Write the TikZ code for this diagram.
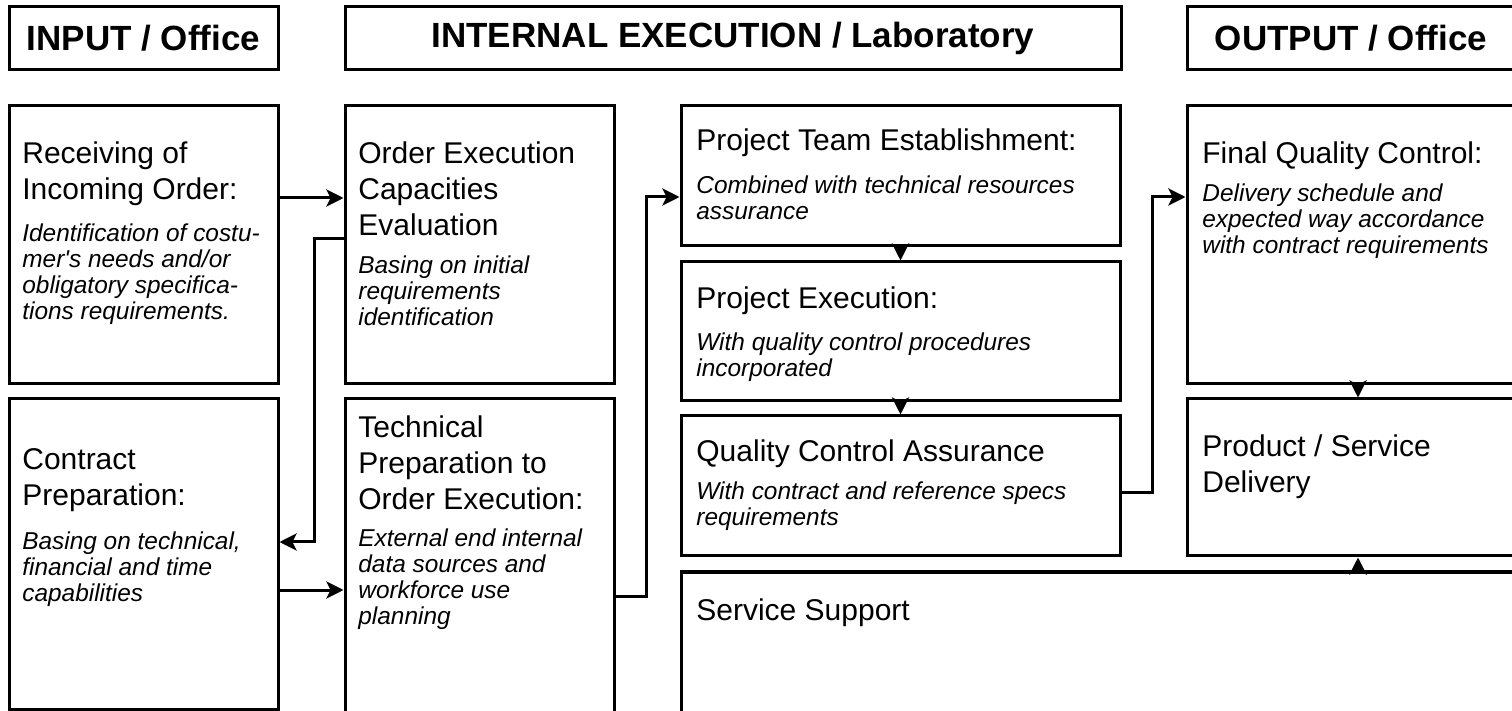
\documentclass[tikz,border=0pt]{standalone}
\usepackage{fontspec}
\setmainfont{Liberation Sans}
\usetikzlibrary{arrows.meta}
\usetikzlibrary{fit}
\tikzset{blk/.style = {draw, line width = 1.5pt, inner sep = 0}}
\tikzset{hdr/.style = {inner sep = 0, font = \bfseries\fontsize{17.5}{21}\selectfont}}
\tikzset{ttl/.style = {anchor = north west, inner sep = 0, align = left, font = \fontsize{15}{18}\selectfont}}
\tikzset{note/.style = {anchor = north west, inner sep = 0, align = left, font = \itshape\fontsize{12.2}{13}\selectfont}}
\tikzset{flow/.style = {line width = 1.5pt, -{Stealth[length = 8.5pt, width = 8.5pt, inset = 2pt]}}}

\begin{document}
\begin{tikzpicture}[x = 0.5pt, y = -0.5pt]

      \clip (0, 0) rectangle (1512, 711);

      \node [blk, fit = {(9, 7) (278, 70)}] (hin) {};
      \node [blk, fit = {(345, 7) (1121, 70)}] (hlab) {};
      \node [blk, fit = {(1187, 7) (1515, 70)}] (hout) {};
      \node [hdr] (hinT) at (hin.center) {INPUT / Office};
      \node [hdr] (hlabT) at (hlab.center) {INTERNAL EXECUTION / Laboratory};
      \node [hdr] (houtT) at (hout.center) {OUTPUT / Office};

      \node [blk, fit = {(9, 106) (278, 384)}] (recv) {};
      \node [blk, fit = {(9, 399) (278, 709)}] (contr) {};
      \node [blk, fit = {(345, 106) (614, 384)}] (eval) {};
      \node [blk, fit = {(345, 399) (614, 740)}] (prep) {};
      \node [blk, fit = {(681, 106) (1120, 246)}] (team) {};
      \node [blk, fit = {(681, 262) (1120, 401)}] (exec) {};
      \node [blk, fit = {(681, 416) (1120, 556)}] (qca) {};
      \node [blk, fit = {(681, 572) (1530, 740)}] (supp) {};
      \node [blk, fit = {(1187, 106) (1515, 384)}] (fqc) {};
      \node [blk, fit = {(1187, 399) (1515, 556)}] (deliv) {};

      \node [ttl] (recvT) at (22, 141) {Receiving of\\Incoming Order:};
      \node [note] (recvN) at (22, 223) {Identification of costu-\\mer\textquotesingle s needs and/or\\obligatory specifica-\\tions requirements.};
      \node [ttl] (contrT) at (22, 448) {Contract\\Preparation:};
      \node [note] (contrN) at (22, 531) {Basing on technical,\\financial and time\\capabilities};
      \node [ttl] (evalT) at (358, 141) {Order Execution\\Capacities\\Evaluation};
      \node [note] (evalN) at (358, 255) {Basing on initial\\requirements\\identification};
      \node [ttl] (prepT) at (358, 415) {Technical\\Preparation to\\Order Execution:};
      \node [note] (prepN) at (358, 528) {External end internal\\data sources and\\workforce use\\planning};
      \node [ttl] (teamT) at (696, 128) {Project Team Establishment:};
      \node [note] (teamN) at (696, 175) {Combined with technical resources\\assurance};
      \node [ttl] (execT) at (696, 286) {Project Execution:};
      \node [note] (execN) at (696, 332) {With quality control procedures\\incorporated};
      \node [ttl] (qcaT) at (696, 439) {Quality Control Assurance};
      \node [note] (qcaN) at (696, 481) {With contract and reference specs\\requirements};
      \node [ttl] (suppT) at (696, 598) {Service Support};
      \node [ttl] (fqcT) at (1202, 141) {Final Quality Control:};
      \node [note] (fqcN) at (1202, 183) {Delivery schedule and\\expected way accordance\\with contract requirements};
      \node [ttl] (delivT) at (1202, 434) {Product / Service\\Delivery};

      \coordinate (c1) at ([yshift = -18pt]contr.east);
      \coordinate (c2) at ([xshift = 3.5pt]deliv.south);

      \draw [flow] ([yshift = 23.5pt]recv.east) -- ([yshift = 23.5pt]eval.west);
      \draw [flow] ([yshift = 3pt]eval.west) -- ++(-29, 0) |- ([yshift = 6pt]contr.east);
      \draw [flow] (c1) -- (c1 -| prep.west);
      \draw [flow] ([yshift = -13.25pt]prep.east) -- ++(31, 0) |- ([yshift = -10.5pt]team.west);
      \draw [flow] (team.south) -- (exec.north);
      \draw [flow] (exec.south) -- (qca.north);
      \draw [flow] ([yshift = -3.5pt]qca.east) -- ++(31, 0) |- ([yshift = 24pt]fqc.west);
      \draw [flow] ([xshift = 3.5pt]fqc.south) -- ([xshift = 3.5pt]deliv.north);
      \draw [flow] (supp.north -| c2) -- (c2);
    \end{tikzpicture}
\end{document}
